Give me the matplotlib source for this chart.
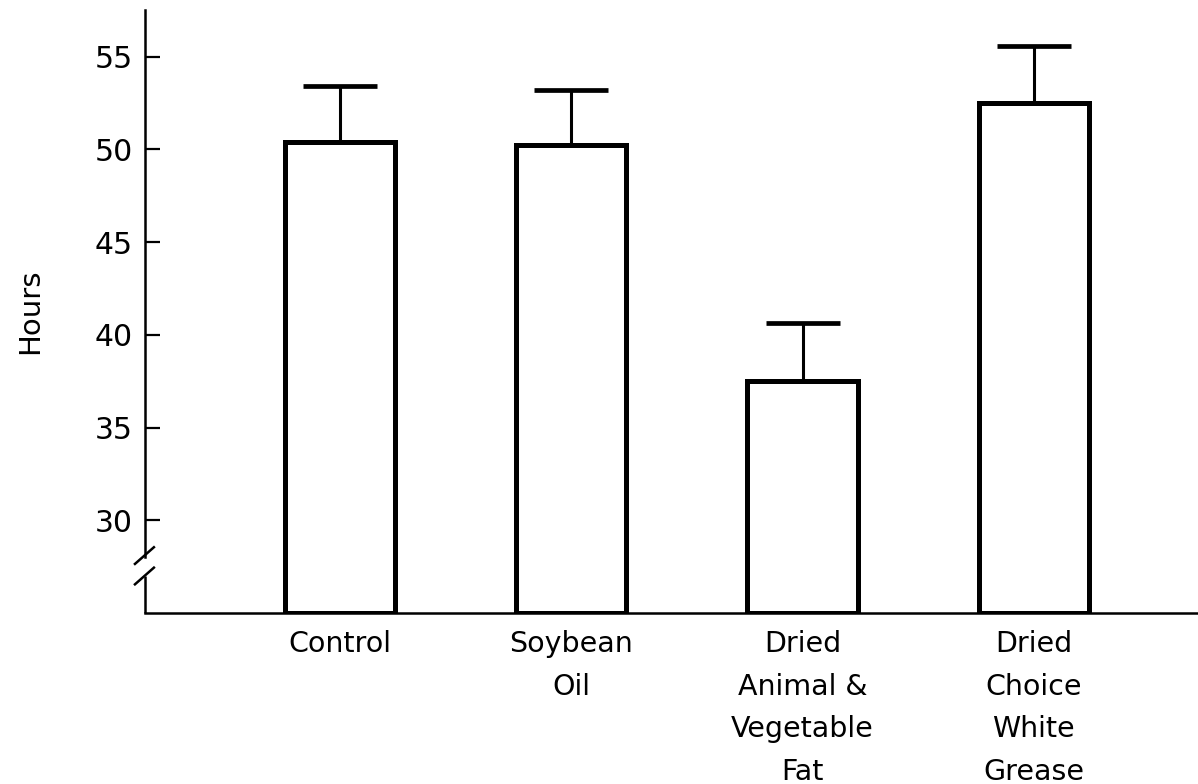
import numpy as np
import matplotlib
matplotlib.use("Agg")
import matplotlib.pyplot as plt
import matplotlib.transforms as mtransforms

# ── Data ──────────────────────────────────────────────────────────────────────
groups = ["Control", "Soybean\nOil", "Dried\nAnimal &\nVegetable\nFat",
          "Dried\nChoice\nWhite\nGrease"]
hours = [50.4, 50.25, 37.5, 52.5]
err_up = [3.0, 2.95, 3.15, 3.05]
yticks = [30, 35, 40, 45, 50, 55]

BASE = 25.0
plt.rcParams["font.family"] = ["DejaVu Sans"]

fig = plt.figure(figsize=(11.98, 7.84), dpi=100)
ax = fig.add_axes([0.121, 0.218, 0.879, 0.769])

x = np.arange(len(groups))
ax.bar(x, np.array(hours) - BASE, bottom=BASE, width=0.476,
       facecolor="white", edgecolor="black", linewidth=3.6, zorder=2)
ax.errorbar(x, hours, yerr=[np.zeros(len(x)), err_up], fmt="none",
            ecolor="black", elinewidth=2.2, capsize=26.5, capthick=3.4, zorder=3)

ax.set_xlim(-0.843, 3.71)
ax.set_ylim(BASE, 57.5)

# axes / spines
for s in ("top", "right"):
    ax.spines[s].set_visible(False)
ax.spines["bottom"].set_linewidth(1.8)
ax.spines["left"].set_linewidth(1.8)
ax.spines["left"].set_bounds(28.0, 57.5)
trans = mtransforms.blended_transform_factory(ax.transAxes, ax.transData)
ax.plot([0, 0], [BASE, 27.0], color="black", lw=1.8, transform=trans,
        clip_on=False, solid_capstyle="butt")
# break marks
for y0, y1 in [(26.55, 27.45), (27.65, 28.55)]:
    ax.plot([-0.0095, 0.0085], [y0, y1], color="black", lw=1.8,
            transform=trans, clip_on=False)

ax.set_yticks(yticks)
ax.set_yticklabels([str(v) for v in yticks])
ax.tick_params(axis="y", direction="in", length=11, width=1.6, pad=9,
               labelsize=21.5)
ax.set_xticks(x)
ax.set_xticklabels(groups, linespacing=1.66)
ax.tick_params(axis="x", length=0, pad=12.5, labelsize=20.5)

ax.set_ylabel("Hours", fontsize=21, labelpad=36)

fig.savefig("out.png", dpi=100)
